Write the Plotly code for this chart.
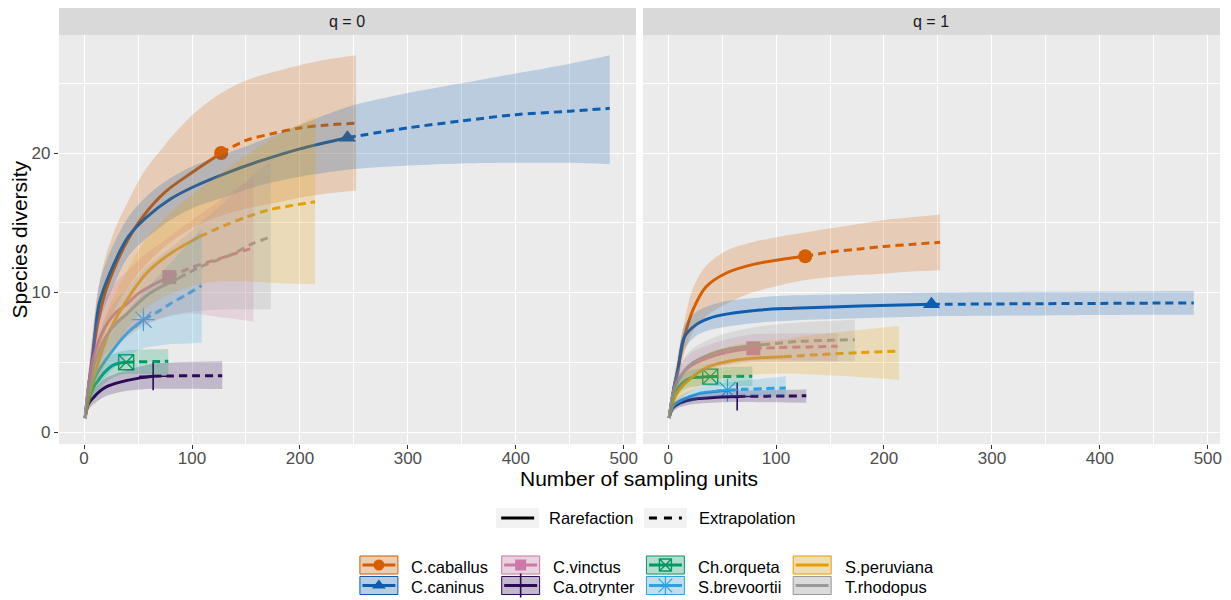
import plotly.graph_objects as go

# The page body has an 8px margin, so the figure is drawn at (8, 8) in the window.
OFF = 8
WIN_W, WIN_H = 1231, 600
W, H = WIN_W - OFF, WIN_H - OFF
FONT = "Liberation Sans, Arial, sans-serif"

# ---------------- categories / styling keys ----------------
species = ["C.caballus", "C.caninus", "C.vinctus", "Ca.otrynter",
           "Ch.orqueta", "S.brevoortii", "S.peruviana", "T.rhodopus"]
colors = ["#D55E00", "#0D5EAF", "#CC79A7", "#2E0B57",
          "#009B63", "#2CA3E0", "#E69F00", "#999999"]
symbols = ["circle", "triangle-up", "square", "cross-thin-open",
           "square-x-open", "asterisk-open", None, None]
obs_n = [127, 244, 79, 64, 39, 55, 107, 87]
panel_titles = ["q = 0", "q = 1"]

# ---------------- q = 0 (species richness) ----------------
cab0_x = [1, 5, 10, 15, 20, 30, 40, 55, 75, 100, 127, 150, 175, 200, 225, 252]
cab0_y = [1, 3.8, 6.6, 8.6, 10.1, 12.1, 13.7, 15.5, 17.2, 18.6, 20.0, 20.9, 21.4, 21.8, 22.0, 22.15]
cab0_lo = [1, 2.5, 4.5, 6.0, 7.2, 9.0, 10.3, 11.8, 13.3, 14.6, 15.5, 16.0, 16.4, 16.8, 17.1, 17.3]
cab0_hi = [1, 5.0, 8.6, 11.0, 12.6, 14.8, 16.4, 18.6, 20.6, 22.7, 24.3, 25.2, 25.8, 26.3, 26.7, 27.0]

can0_x = [1, 4, 7, 10, 14, 24, 41, 58, 80, 102, 133, 164, 200, 244, 300, 350, 400, 450, 487]
can0_y = [1, 3.2, 4.8, 7.0, 9.2, 11.4, 14.0, 15.4, 16.7, 17.6, 18.6, 19.45, 20.3, 21.1, 21.8, 22.3, 22.75, 23.0, 23.2]
can0_lo = [1, 2.6, 3.9, 5.8, 7.8, 9.9, 12.6, 13.9, 15.2, 16.1, 16.9, 17.7, 18.3, 18.8, 19.1, 19.25, 19.3, 19.3, 19.2]
can0_hi = [1, 3.8, 5.7, 8.2, 10.6, 12.9, 15.4, 16.9, 18.2, 19.1, 20.0, 20.9, 22.0, 23.3, 24.3, 25.0, 25.7, 26.4, 27.0]

vin0_x = [1, 5, 10, 20, 30, 40, 50, 65, 79, 100, 120, 140, 157]
vin0_y = [1, 3.8, 5.7, 7.6, 8.6, 9.2, 9.9, 10.6, 11.1, 11.8, 12.3, 12.8, 13.2]
vin0_lo = [1, 2.6, 4.0, 5.6, 6.4, 7.0, 7.5, 8.0, 8.3, 8.5, 8.3, 8.1, 7.9]
vin0_hi = [1, 5.0, 7.4, 9.6, 10.8, 11.5, 12.3, 13.2, 14.0, 15.2, 16.3, 17.4, 18.3]

otr0_x = [1, 4, 9, 15, 21, 30, 40, 52, 64, 80, 100, 128]
otr0_y = [1, 2.0, 2.5, 2.95, 3.25, 3.5, 3.7, 3.88, 4.0, 4.02, 4.03, 4.04]
otr0_lo = [1, 1.6, 2.0, 2.35, 2.6, 2.8, 2.95, 3.05, 3.1, 3.1, 3.1, 3.08]
otr0_hi = [1, 2.4, 3.0, 3.55, 3.9, 4.2, 4.45, 4.7, 4.9, 4.98, 5.03, 5.07]

orq0_x = [1, 4, 9, 14, 18, 27, 39, 50, 65, 78]
orq0_y = [1, 2.3, 3.25, 3.8, 4.2, 4.8, 5.0, 5.03, 5.05, 5.07]
orq0_lo = [1, 1.8, 2.6, 3.0, 3.4, 3.9, 4.15, 4.15, 4.12, 4.1]
orq0_hi = [1, 2.8, 3.9, 4.5, 5.0, 5.6, 5.85, 5.9, 5.93, 5.95]

bre0_x = [1, 5, 12, 24, 40, 55, 70, 80, 95, 109]
bre0_y = [1, 2.9, 4.2, 5.6, 7.1, 8.05, 8.7, 9.2, 9.85, 10.5]
bre0_lo = [1, 2.2, 3.2, 4.3, 5.4, 6.0, 6.2, 6.3, 6.35, 6.4]
bre0_hi = [1, 3.6, 5.2, 6.9, 8.7, 10.0, 11.3, 12.1, 13.4, 14.6]

per0_x = [1, 5, 12, 24, 40, 58, 80, 107, 130, 150, 170, 190, 214]
per0_y = [1, 2.7, 4.7, 7.3, 9.5, 11.4, 12.8, 14.0, 14.8, 15.4, 15.9, 16.2, 16.5]
per0_lo = [1, 1.9, 3.4, 5.5, 7.4, 8.9, 9.9, 10.6, 10.8, 10.8, 10.7, 10.65, 10.6]
per0_hi = [1, 3.5, 6.0, 9.1, 11.6, 13.9, 15.7, 17.4, 18.7, 19.8, 20.8, 21.7, 22.6]

rho0_x = [1, 5, 10, 20, 30, 40, 60, 87, 108, 136, 156, 173]
rho0_y = [1, 3.4, 5.0, 6.8, 7.8, 8.5, 9.9, 11.0, 11.85, 12.7, 13.5, 14.0]
rho0_lo = [1, 2.5, 3.8, 5.3, 6.2, 6.8, 7.8, 8.5, 8.7, 8.8, 8.8, 8.8]
rho0_hi = [1, 4.3, 6.2, 8.3, 9.5, 10.3, 12.0, 13.6, 15.0, 16.9, 18.4, 19.5]

# ---------------- q = 1 (Shannon diversity) ----------------
cab1_x = [1, 5, 9, 15, 23, 35, 54, 78, 103, 127, 150, 175, 200, 225, 252]
cab1_y = [1, 3.0, 4.5, 6.8, 8.75, 10.4, 11.4, 12.0, 12.35, 12.6, 12.9, 13.1, 13.3, 13.45, 13.6]
cab1_lo = [1, 2.3, 3.5, 5.6, 7.2, 8.3, 9.2, 10.0, 10.5, 10.9, 11.1, 11.25, 11.35, 11.5, 11.6]
cab1_hi = [1, 3.7, 5.5, 7.9, 10.3, 11.9, 13.0, 13.6, 14.0, 14.3, 14.6, 14.9, 15.2, 15.4, 15.6]

can1_x = [1, 5, 9, 15, 26, 38, 54, 85, 116, 178, 244, 300, 350, 400, 450, 487]
can1_y = [1, 3.0, 4.4, 6.8, 7.7, 8.15, 8.45, 8.75, 8.87, 9.03, 9.15, 9.18, 9.2, 9.22, 9.24, 9.25]
can1_lo = [1, 2.5, 3.7, 5.9, 6.9, 7.3, 7.55, 7.85, 8.0, 8.15, 8.3, 8.33, 8.36, 8.38, 8.4, 8.4]
can1_hi = [1, 3.5, 5.1, 7.6, 8.6, 9.05, 9.4, 9.65, 9.8, 9.9, 10.0, 10.03, 10.05, 10.07, 10.09, 10.1]

vin1_x = [1, 5, 10, 20, 40, 60, 79, 100, 130, 157]
vin1_y = [1, 2.9, 3.8, 4.7, 5.4, 5.8, 6.0, 6.05, 6.1, 6.15]
vin1_lo = [1, 2.3, 3.0, 3.8, 4.5, 4.85, 5.0, 5.03, 5.05, 5.07]
vin1_hi = [1, 3.5, 4.6, 5.6, 6.3, 6.75, 7.0, 7.05, 7.08, 7.1]

otr1_x = [1, 4, 10, 20, 29, 45, 64, 90, 110, 128]
otr1_y = [1, 1.7, 2.05, 2.3, 2.4, 2.5, 2.55, 2.57, 2.58, 2.6]
otr1_lo = [1, 1.4, 1.75, 1.95, 2.05, 2.12, 2.15, 2.13, 2.12, 2.1]
otr1_hi = [1, 2.0, 2.35, 2.6, 2.75, 2.88, 2.97, 3.0, 3.03, 3.05]

orq1_x = [1, 4, 10, 20, 30, 39, 50, 65, 78]
orq1_y = [1, 2.3, 3.25, 3.85, 3.93, 3.97, 3.98, 3.99, 4.0]
orq1_lo = [1, 1.8, 2.7, 3.2, 3.28, 3.3, 3.3, 3.3, 3.3]
orq1_hi = [1, 2.8, 3.8, 4.4, 4.55, 4.6, 4.65, 4.68, 4.7]

bre1_x = [1, 5, 13, 29, 42, 55, 70, 90, 109]
bre1_y = [1, 1.9, 2.3, 2.77, 2.9, 3.0, 3.06, 3.11, 3.15]
bre1_lo = [1, 1.6, 1.95, 2.35, 2.5, 2.55, 2.55, 2.55, 2.55]
bre1_hi = [1, 2.2, 2.7, 3.2, 3.4, 3.55, 3.7, 3.85, 4.0]

per1_x = [1, 5, 10, 23, 38, 54, 78, 107, 140, 175, 214]
per1_y = [1, 2.3, 3.0, 3.97, 4.7, 5.04, 5.28, 5.4, 5.55, 5.68, 5.8]
per1_lo = [1, 1.7, 2.3, 3.0, 3.6, 3.9, 4.1, 4.2, 4.1, 3.95, 3.75]
per1_hi = [1, 2.9, 3.7, 4.9, 5.7, 6.1, 6.45, 6.65, 7.0, 7.3, 7.6]

rho1_x = [1, 5, 10, 20, 40, 60, 87, 122, 150, 173]
rho1_y = [1, 2.9, 3.8, 4.8, 5.6, 6.0, 6.25, 6.5, 6.57, 6.62]
rho1_lo = [1, 2.2, 3.0, 3.9, 4.6, 4.95, 5.15, 5.1, 5.08, 5.07]
rho1_hi = [1, 3.6, 4.6, 5.8, 6.7, 7.2, 7.6, 7.85, 7.97, 8.05]

q0 = [(cab0_x, cab0_y, cab0_lo, cab0_hi), (can0_x, can0_y, can0_lo, can0_hi),
      (vin0_x, vin0_y, vin0_lo, vin0_hi), (otr0_x, otr0_y, otr0_lo, otr0_hi),
      (orq0_x, orq0_y, orq0_lo, orq0_hi), (bre0_x, bre0_y, bre0_lo, bre0_hi),
      (per0_x, per0_y, per0_lo, per0_hi), (rho0_x, rho0_y, rho0_lo, rho0_hi)]
q1 = [(cab1_x, cab1_y, cab1_lo, cab1_hi), (can1_x, can1_y, can1_lo, can1_hi),
      (vin1_x, vin1_y, vin1_lo, vin1_hi), (otr1_x, otr1_y, otr1_lo, otr1_hi),
      (orq1_x, orq1_y, orq1_lo, orq1_hi), (bre1_x, bre1_y, bre1_lo, bre1_hi),
      (per1_x, per1_y, per1_lo, per1_hi), (rho1_x, rho1_y, rho1_lo, rho1_hi)]


def rgba(hexc, a):
    h = hexc.lstrip("#")
    r, g, b = int(h[0:2], 16), int(h[2:4], 16), int(h[4:6], 16)
    return f"rgba({r},{g},{b},{a})"


def marker_style(sym, col, legend=False):
    sizes = {"circle": 14, "triangle-up": 15, "square": 14,
             "cross-thin-open": 20, "square-x-open": 15, "asterisk-open": 19}
    lw = {"circle": 0, "triangle-up": 0, "square": 0,
          "cross-thin-open": 1.6, "square-x-open": 1.4, "asterisk-open": 1.2}
    s = sizes[sym] - (3 if legend else 0)
    return dict(symbol=sym, size=s, color=col, line=dict(color=col, width=lw[sym]))


def fx(px):  # window pixel -> paper fraction (x)
    return (px - OFF) / W


def fy(py):  # window pixel -> paper fraction (y)
    return 1 - (py - OFF) / H


# ---------------- geometry (window pixels) ----------------
PANEL_TOP, PANEL_BOT, STRIP_TOP = 35, 444, 8
panels_px = [(59, 637), (644, 1222)]
DASH = "8px,5px"
ALPHA = 0.22
SPL = dict(shape="spline", smoothing=0.9)

fig = go.Figure()

for data, xa, ya in [(q0, "x", "y"), (q1, "x2", "y2")]:
    # observed points
    for col, sym, n, (xs, ys, lo, hi) in zip(colors, symbols, obs_n, data):
        if sym is None:
            continue
        k = xs.index(n)
        fig.add_trace(go.Scatter(x=[xs[k]], y=[ys[k]], mode="markers",
                                 marker=marker_style(sym, col), xaxis=xa, yaxis=ya,
                                 showlegend=False, hoverinfo="skip"))
    # rarefaction (solid) / extrapolation (dashed)
    for col, n, (xs, ys, lo, hi) in zip(colors, obs_n, data):
        k = xs.index(n)
        fig.add_trace(go.Scatter(x=xs[:k + 1], y=ys[:k + 1], mode="lines",
                                 line=dict(color=col, width=3, **SPL),
                                 xaxis=xa, yaxis=ya, showlegend=False, hoverinfo="skip"))
        fig.add_trace(go.Scatter(x=xs[k:], y=ys[k:], mode="lines",
                                 line=dict(color=col, width=3, dash=DASH, **SPL),
                                 xaxis=xa, yaxis=ya, showlegend=False, hoverinfo="skip"))
    # confidence ribbons (drawn on top, like ggiNEXT)
    for col, (xs, ys, lo, hi) in zip(colors, data):
        fig.add_trace(go.Scatter(x=xs, y=lo, mode="lines",
                                 line=dict(width=0, color=col, **SPL),
                                 xaxis=xa, yaxis=ya, showlegend=False, hoverinfo="skip"))
        fig.add_trace(go.Scatter(x=xs, y=hi, mode="lines", fill="tonexty",
                                 fillcolor=rgba(col, ALPHA),
                                 line=dict(width=0, color=col, **SPL),
                                 xaxis=xa, yaxis=ya, showlegend=False, hoverinfo="skip"))

shapes = []
annotations = []

# panel backgrounds + strips
for (x0, x1), title in zip(panels_px, panel_titles):
    shapes.append(dict(type="rect", xref="paper", yref="paper", layer="below",
                       x0=fx(x0), x1=fx(x1), y0=fy(PANEL_BOT), y1=fy(PANEL_TOP),
                       fillcolor="#EBEBEB", line=dict(width=0)))
    shapes.append(dict(type="rect", xref="x3", yref="y3", layer="below",
                       x0=x0, x1=x1, y0=STRIP_TOP, y1=PANEL_TOP,
                       fillcolor="#D9D9D9", line=dict(width=0)))
    annotations.append(dict(xref="x3", yref="y3", x=(x0 + x1) / 2, y=(STRIP_TOP + PANEL_TOP) / 2,
                            text=title, showarrow=False,
                            font=dict(family=FONT, size=16, color="#1A1A1A")))

# axis titles
annotations.append(dict(xref="x3", yref="y3", x=(panels_px[0][0] + panels_px[1][1]) / 2, y=478,
                        text="Number of sampling units", showarrow=False,
                        font=dict(family=FONT, size=21, color="black")))
annotations.append(dict(xref="x3", yref="y3", x=20, y=(PANEL_TOP + PANEL_BOT) / 2,
                        text="Species diversity", showarrow=False, textangle=-90,
                        font=dict(family=FONT, size=21, color="black")))

# ---- legend 1: line type ----
lt_items = [("Rarefaction", None, 497, 548), ("Extrapolation", "8px,7px", 645, 698)]
for label, dash, kx, tx in lt_items:
    shapes.append(dict(type="rect", xref="x3", yref="y3", layer="below",
                       x0=kx, x1=kx + 43, y0=508, y1=528,
                       fillcolor="#F2F2F2", line=dict(width=0)))
    ln = dict(color="black", width=2.8)
    if dash:
        ln["dash"] = dash
    shapes.append(dict(type="line", xref="x3", yref="y3", layer="below",
                       x0=kx + 5, x1=kx + 38, y0=518, y1=518, line=ln))
    annotations.append(dict(xref="x3", yref="y3", x=tx, y=518, xanchor="left", text=label,
                            showarrow=False, font=dict(family=FONT, size=16.5, color="black")))

# ---- legend 2: species (4 columns x 2 rows, column-major) ----
col_left = [360, 502, 647, 794]
row_cy = [565, 585.5]
KW, KH = 39, 19
for i, (sp, col, sym) in enumerate(zip(species, colors, symbols)):
    cx0 = col_left[i // 2]
    cy = row_cy[i % 2]
    shapes.append(dict(type="rect", xref="x3", yref="y3", layer="below",
                       x0=cx0, x1=cx0 + KW, y0=cy - KH / 2, y1=cy + KH / 2,
                       fillcolor="#F2F2F2", line=dict(width=0)))
    shapes.append(dict(type="rect", xref="x3", yref="y3", layer="below",
                       x0=cx0 + 0.5, x1=cx0 + KW - 0.5,
                       y0=cy - KH / 2 + 0.5, y1=cy + KH / 2 - 0.5, fillcolor=rgba(col, 0.25),
                       line=dict(color=col, width=1)))
    shapes.append(dict(type="line", xref="x3", yref="y3", layer="below",
                       x0=cx0 + 3, x1=cx0 + KW - 3, y0=cy, y1=cy,
                       line=dict(color=col, width=2.8)))
    if sym is not None:
        fig.add_trace(go.Scatter(x=[cx0 + KW / 2], y=[cy], mode="markers",
                                 marker=marker_style(sym, col, legend=True),
                                 xaxis="x3", yaxis="y3", showlegend=False, hoverinfo="skip"))
    annotations.append(dict(xref="x3", yref="y3", x=cx0 + 50, y=cy + 1.5, xanchor="left",
                            text=sp, showarrow=False,
                            font=dict(family=FONT, size=16.5, color="black")))

ydom = [fy(PANEL_BOT), fy(PANEL_TOP)]
x_common = dict(range=[-23.3, 511.3], tickmode="linear", tick0=0, dtick=100,
                showgrid=True, gridcolor="white", gridwidth=1.4,
                minor=dict(tickmode="linear", tick0=0, dtick=50, showgrid=True,
                           gridcolor="white", gridwidth=0.7, ticks=""),
                ticks="outside", ticklen=4, tickwidth=1.1, tickcolor="#333333",
                ticklabelstandoff=-5,
                tickfont=dict(family=FONT, size=17, color="#4D4D4D"),
                zeroline=False, showline=False, fixedrange=True)
y_common = dict(range=[-0.86, 28.46], tickmode="linear", tick0=0, dtick=10,
                showgrid=True, gridcolor="white", gridwidth=1.4,
                minor=dict(tickmode="linear", tick0=0, dtick=5, showgrid=True,
                           gridcolor="white", gridwidth=0.7, ticks=""),
                zeroline=False, showline=False, fixedrange=True, domain=ydom)

fig.update_layout(
    width=W, height=H,
    margin=dict(l=0, r=0, t=0, b=0),
    paper_bgcolor="white", plot_bgcolor="rgba(0,0,0,0)",
    showlegend=False,
    font=dict(family=FONT),
    xaxis=dict(**x_common, domain=[fx(panels_px[0][0]), fx(panels_px[0][1])], anchor="y"),
    xaxis2=dict(**x_common, domain=[fx(panels_px[1][0]), fx(panels_px[1][1])], anchor="y2"),
    yaxis=dict(**y_common, anchor="x", ticks="outside", ticklen=4, tickwidth=1.1,
               tickcolor="#333333", tickfont=dict(family=FONT, size=17, color="#4D4D4D")),
    yaxis2=dict(**y_common, anchor="x2", showticklabels=False, ticks=""),
    xaxis3=dict(domain=[0, 1], range=[OFF, OFF + W], visible=False, anchor="y3", fixedrange=True),
    yaxis3=dict(domain=[0, 1], range=[OFF + H, OFF], visible=False, anchor="x3", fixedrange=True),
    shapes=shapes, annotations=annotations,
)

fig.write_html("out.html")
